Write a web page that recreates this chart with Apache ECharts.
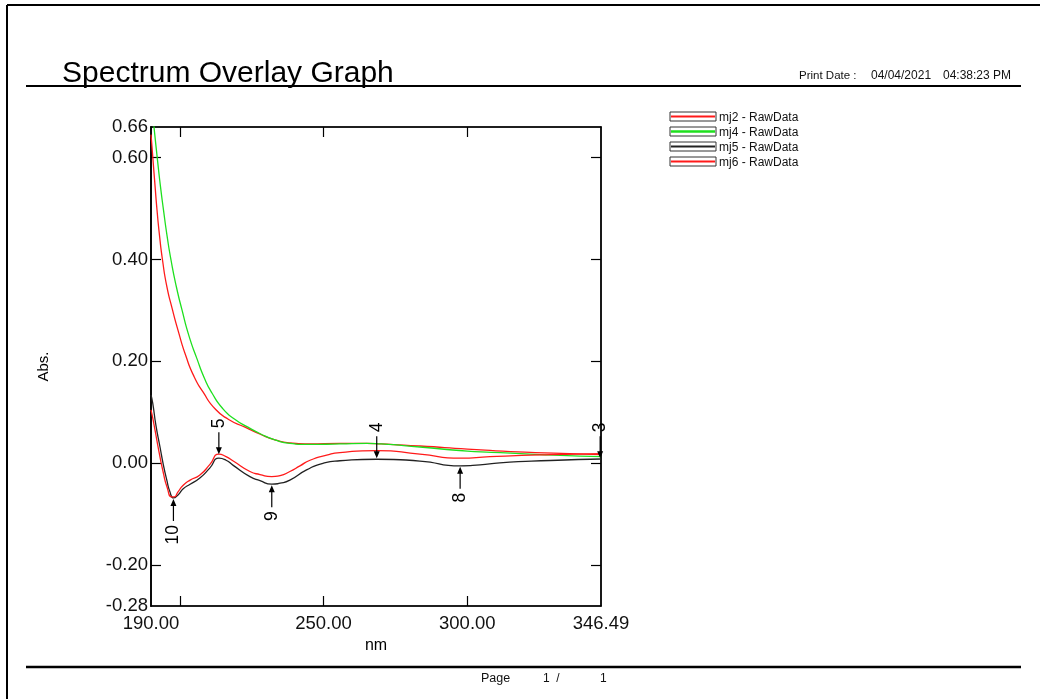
<!DOCTYPE html>
<html><head><meta charset="utf-8">
<script src="https://cdn.jsdelivr.net/npm/echarts@6/dist/echarts.min.js"></script>
<style>html,body{margin:0;padding:0;background:#fff}#c{width:1040px;height:699px}</style>
</head><body><div id="c"></div>
<script>
const FONT = 'Liberation Sans, Arial, sans-serif';
const seriesNames = ['mj2 - RawData', 'mj4 - RawData', 'mj5 - RawData', 'mj6 - RawData'];
const seriesColors = ['#ff1a1a', '#1ee01e', '#222222', '#ff1a1a'];

// [nm, Abs]
const mj2 = [[190.0,0.645],[190.24,0.629],[190.7,0.595],[191.4,0.545],[192.09,0.497],[193.0,0.445],[194.0,0.399],
  [195.5,0.347],[197.3,0.305],[199.5,0.259],[202.17,0.210],[205.0,0.170],[208.08,0.140],[212.26,0.107],[217.0,0.086],
  [222.7,0.071],[228.0,0.057],[233.1,0.046],[238.3,0.040],[245,0.038],[255.7,0.039],[265,0.039],[270,0.038],
  [283.5,0.034],[300,0.028],[315,0.023],[330,0.020],[346.49,0.017]];
const mj4 = [[190.0,0.717],[191.04,0.660],[192.26,0.595],[193.3,0.543],[194.35,0.497],[195.6,0.446],[196.96,0.399],
  [198.8,0.347],[200.78,0.301],[203.2,0.250],[206.0,0.205],[208.5,0.168],[211.2,0.138],[215.0,0.107],[219.0,0.087],
  [223.7,0.071],[228.0,0.058],[233.1,0.046],[238.3,0.039],[245,0.037],[255.7,0.038],[265,0.039],[270,0.038],
  [283.5,0.032],[300,0.024],[315,0.020],[330,0.016],[346.49,0.013]];
const mj5 = [[190.0,0.134],[190.6,0.118],[191.7,0.075],[193.1,0.033],[194.3,-0.003],[195.5,-0.033],[196.6,-0.056],
  [197.8,-0.068],[199.4,-0.062],[201.2,-0.050],[203.6,-0.041],[207.0,-0.029],[210.5,-0.009],[213.6,0.010],
  [216.1,0.006],[218.6,-0.004],[224.4,-0.026],[227.9,-0.034],[232.0,-0.041],[234.9,-0.039],[238.3,-0.033],
  [244.1,-0.013],[249.8,0.000],[255.7,0.005],[268.5,0.008],[283.5,0.0045],[297.5,-0.005],[304.4,-0.003],
  [311.3,0.001],[328.8,0.0055],[346.49,0.0085]];
const mj6 = [[190.0,0.105],[190.6,0.089],[191.4,0.065],[192.8,0.022],[194.3,-0.019],[195.6,-0.047],[197.2,-0.066],
  [198.0,-0.066],[199.4,-0.056],[201.2,-0.043],[203.6,-0.033],[207.0,-0.023],[210.5,-0.002],[213.6,0.018],
  [216.1,0.013],[218.6,0.0045],[224.4,-0.016],[227.9,-0.022],[232.0,-0.026],[234.9,-0.024],[238.3,-0.016],
  [241.8,-0.005],[245.3,0.006],[251.1,0.016],[255.7,0.021],[268.5,0.025],[283.5,0.018],[297.5,0.010],
  [307.9,0.013],[328.8,0.017],[346.49,0.019]];
const seriesData = [mj2, mj4, mj5, mj6];

const xTickValues = [200, 250, 300];
const xLabelValues = [190, 250, 300, 346.49];
const yTickValues = [0.6, 0.4, 0.2, 0, -0.2];
const yLabelValues = [0.66, 0.6, 0.4, 0.2, 0, -0.2, -0.28];

const peakLabels = ['10', '5', '9', '4', '8', '3'];
const peakNm = [197.8, 213.6, 232.0, 268.5, 297.5, 346.2];
const peakAbs = [-0.068, 0.016, -0.041, 0.008, -0.005, 0.008];
const peakDir = ['up', 'down', 'up', 'down', 'up', 'down'];

const arrowDown = 'path://M2.4,0 L3.6,0 L3.6,15 L6,15 L3,22 L0,15 L2.4,15 Z';
const arrowUp = 'path://M3,0 L6,7 L3.6,7 L3.6,22 L2.4,22 L2.4,7 L0,7 Z';

const chart = echarts.init(document.getElementById('c'), null, {renderer: 'canvas'});

const markData = peakLabels.map((t, i) => {
  const down = peakDir[i] === 'down';
  return {
    coord: [peakNm[i], peakAbs[i]],
    symbol: down ? arrowDown : arrowUp,
    symbolSize: [6, 22],
    symbolOffset: [0, down ? -12 : 12],
    itemStyle: {color: '#000'},
    label: {show: true, formatter: t, position: down ? 'top' : 'bottom', distance: 4, rotate: 90,
      align: down ? 'left' : 'right', verticalAlign: 'middle', fontSize: 17.5, color: '#000', fontFamily: FONT}
  };
});

const series = seriesData.map((d, i) => ({
  name: seriesNames[i], type: 'line', data: d, smooth: 0.6, showSymbol: false, symbol: 'none',
  lineStyle: {color: seriesColors[i], width: 1.3}, itemStyle: {color: seriesColors[i]},
  z: 2, animation: false,
  markPoint: i === 2 ? {data: markData, animation: false, silent: true} : undefined
}));

const graphic = [
  {type: 'line', shape: {x1: 7, y1: 5, x2: 1040, y2: 5}, style: {stroke: '#000', lineWidth: 2}},
  {type: 'line', shape: {x1: 7, y1: 5, x2: 7, y2: 699}, style: {stroke: '#000', lineWidth: 2}},
  {type: 'line', shape: {x1: 26, y1: 86, x2: 1021, y2: 86}, style: {stroke: '#000', lineWidth: 2}},
  {type: 'line', shape: {x1: 26, y1: 667, x2: 1021, y2: 667}, style: {stroke: '#000', lineWidth: 2.5}},
  {type: 'text', x: 62, y: 74, style: {text: 'Spectrum Overlay Graph', fontSize: 30, fontFamily: FONT, fill: '#000', verticalAlign: 'middle'}},
  {type: 'text', x: 799, y: 76, style: {text: 'Print Date :', fontSize: 11.5, fontFamily: FONT, fill: '#111', verticalAlign: 'middle'}},
  {type: 'text', x: 871, y: 76, style: {text: '04/04/2021', fontSize: 12, fontFamily: FONT, fill: '#111', verticalAlign: 'middle'}},
  {type: 'text', x: 943, y: 76, style: {text: '04:38:23 PM', fontSize: 12, fontFamily: FONT, fill: '#111', verticalAlign: 'middle'}},
  {type: 'text', x: 481, y: 679, style: {text: 'Page', fontSize: 12.5, fontFamily: FONT, fill: '#111', verticalAlign: 'middle'}},
  {type: 'text', x: 543, y: 679, style: {text: '1  /', fontSize: 12, fontFamily: FONT, fill: '#111', verticalAlign: 'middle'}},
  {type: 'text', x: 600, y: 679, style: {text: '1', fontSize: 12, fontFamily: FONT, fill: '#111', verticalAlign: 'middle'}}
];
seriesNames.forEach((n, i) => {
  const y = 112 + 15 * i;
  graphic.push({type: 'rect', shape: {x: 670, y: y, width: 46, height: 9}, style: {fill: '#fff', stroke: '#333', lineWidth: 1}});
  graphic.push({type: 'line', shape: {x1: 671, y1: y + 4.5, x2: 715, y2: y + 4.5}, style: {stroke: seriesColors[i], lineWidth: i === 1 ? 2.5 : 1.8}});
  graphic.push({type: 'text', x: 719, y: y + 5.5, style: {text: n, fontSize: 12, fontFamily: FONT, fill: '#111', verticalAlign: 'middle'}});
});

const fmt2 = v => Number(v).toFixed(2).replace('-0.00', '0.00');

chart.setOption({
  animation: false,
  backgroundColor: '#fff',
  grid: {left: 151, top: 127, width: 450, height: 479, show: true, borderColor: '#000', borderWidth: 1.2, backgroundColor: 'transparent'},
  xAxis: [
    {type: 'value', min: 190, max: 346.49, position: 'bottom',
      name: 'nm', nameLocation: 'middle', nameGap: 30, nameTextStyle: {fontSize: 16, fontFamily: FONT, color: '#000'},
      axisLine: {show: true, onZero: false, lineStyle: {color: '#000', width: 1.5}},
      axisTick: {show: true, inside: true, length: 10, customValues: xTickValues, lineStyle: {color: '#000', width: 1.2}},
      axisLabel: {show: true, customValues: xLabelValues, formatter: fmt2, fontSize: 18.5, fontFamily: FONT, color: '#111', margin: 8},
      splitLine: {show: false}},
    {type: 'value', min: 190, max: 346.49, position: 'top',
      axisLine: {show: true, onZero: false, lineStyle: {color: '#000', width: 1.5}},
      axisTick: {show: true, inside: true, length: 10, customValues: xTickValues, lineStyle: {color: '#000', width: 1.2}},
      axisLabel: {show: false}, splitLine: {show: false}}
  ],
  yAxis: [
    {type: 'value', min: -0.28, max: 0.66, position: 'left',
      name: 'Abs.', nameLocation: 'middle', nameGap: 100, nameRotate: 90, nameTextStyle: {fontSize: 15, fontFamily: FONT, color: '#000'},
      axisLine: {show: true, onZero: false, lineStyle: {color: '#000', width: 1.8}},
      axisTick: {show: true, inside: true, length: 10, customValues: yTickValues, lineStyle: {color: '#000', width: 1.2}},
      axisLabel: {show: true, customValues: yLabelValues, formatter: fmt2, fontSize: 18.5, fontFamily: FONT, color: '#111', margin: 3},
      splitLine: {show: false}},
    {type: 'value', min: -0.28, max: 0.66, position: 'right',
      axisLine: {show: true, onZero: false, lineStyle: {color: '#000', width: 1.5}},
      axisTick: {show: true, inside: true, length: 10, customValues: yTickValues, lineStyle: {color: '#000', width: 1.2}},
      axisLabel: {show: false}, splitLine: {show: false}}
  ],
  series: series,
  graphic: graphic
});
</script></body></html>
